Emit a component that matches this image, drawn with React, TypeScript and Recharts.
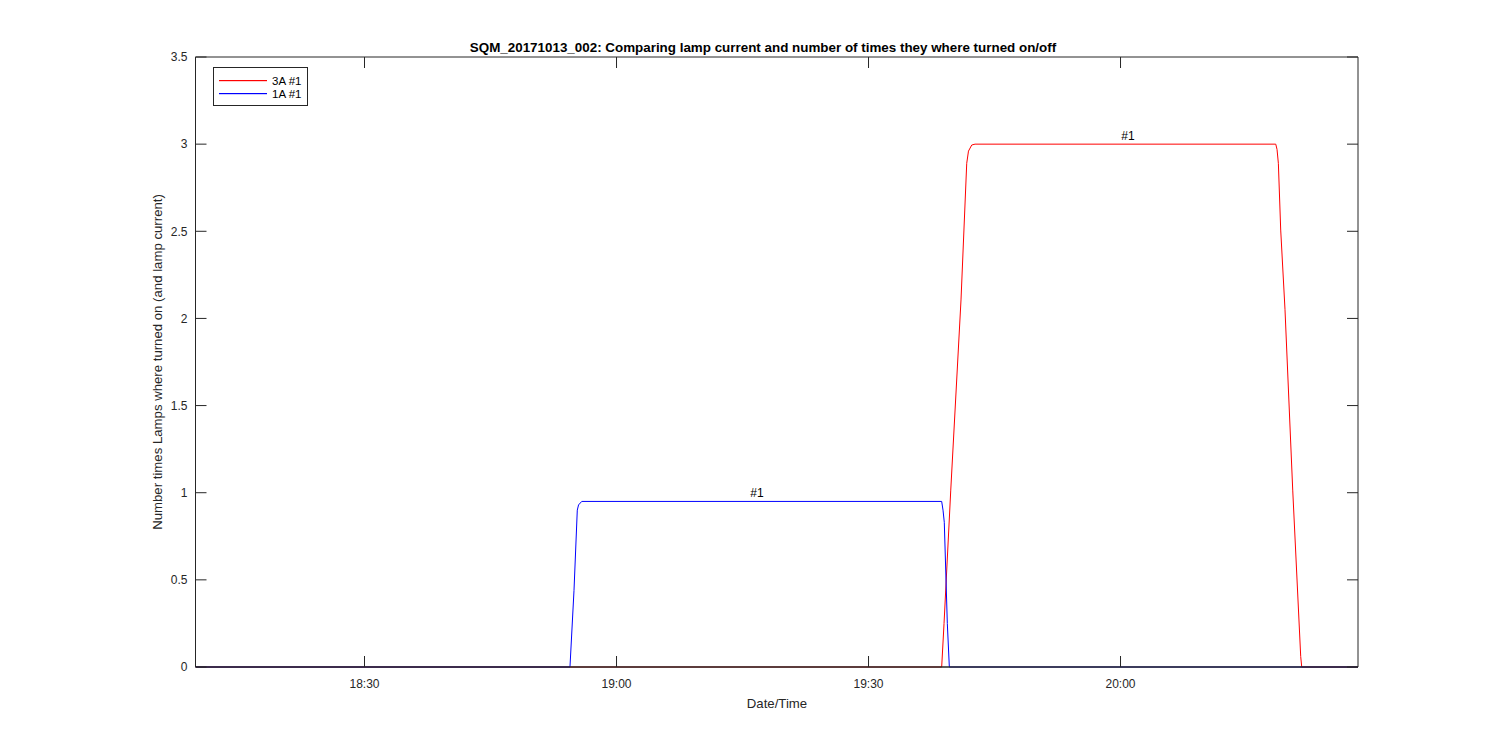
import { LineChart, Line, XAxis, YAxis, ReferenceDot, ReferenceLine, Legend } from 'recharts'

// ─── Data ─────────────────────────────────────────────────────────────────────

const TITLE = 'SQM_20171013_002: Comparing lamp current and number of times they where turned on/off'
const X_LABEL = 'Date/Time'
const Y_LABEL = 'Number times Lamps where turned on (and lamp current)'

// time axis in minutes after midnight
const X_DOMAIN = [1089.88, 1228.27]
const X_TICKS = [1110, 1140, 1170, 1200]
const Y_DOMAIN = [0, 3.5]
const Y_TICKS = [0, 0.5, 1, 1.5, 2, 2.5, 3, 3.5]

const SERIES_NAMES = ['3A #1', '1A #1']
const SERIES_COLORS = ['#ff0000', '#0000ff']

const lamp3aTime = [
  1089.88, 1178.71, 1178.99, 1179.79, 1181.01, 1181.69, 1181.9, 1182.29, 1182.68,
  1218.48, 1218.63, 1218.79, 1219.07, 1219.58, 1220.5, 1221.45, 1221.57, 1228.27,
]
const lamp3aValue = [
  0, 0, 0.25, 1.015, 2.106, 2.89, 2.96, 2.995, 3,
  3, 2.97, 2.89, 2.507, 2.05, 1.015, 0.06, 0, 0,
]

const lamp1aTime = [
  1089.88, 1134.46, 1134.94, 1135.33, 1135.48, 1135.86,
  1178.71, 1178.87, 1179.02, 1179.38, 1179.62, 1228.27,
]
const lamp1aValue = [0, 0, 0.44, 0.9, 0.93, 0.95, 0.95, 0.9, 0.83, 0.25, 0, 0]

const annoTime = [1156.73, 1200.89]
const annoValue = [0.95, 3]
const annoText = ['#1', '#1']

// ─── Layout / style ───────────────────────────────────────────────────────────

const FONT = '"Liberation Sans", Arial, Helvetica, sans-serif'
const AXIS = '#262626'
const PLOT_W = 1162.5
const PLOT_H = 610
const TICK_LEN = 11
// inward tick length expressed in axis units
const TICK_DX = ((X_DOMAIN[1] - X_DOMAIN[0]) * TICK_LEN) / PLOT_W
const TICK_DY = ((Y_DOMAIN[1] - Y_DOMAIN[0]) * TICK_LEN) / PLOT_H

function hhmm(m: number) {
  const h = Math.floor(m / 60)
  const mm = Math.round(m - h * 60)
  return `${h}:${String(mm).padStart(2, '0')}`
}

const lamp3a = lamp3aTime.map((t, i) => ({ t, v: lamp3aValue[i] }))
const lamp1a = lamp1aTime.map((t, i) => ({ t, v: lamp1aValue[i] }))

function LegendBox() {
  return (
    <div style={{ border: `1px solid ${AXIS}`, background: '#fff', padding: '6px 6px 5px 5px', fontFamily: FONT, fontSize: 11.5, color: '#000' }}>
      {SERIES_NAMES.map((name, i) => (
        <div key={name} style={{ display: 'flex', alignItems: 'center', height: 13 }}>
          <svg width={48} height={4} style={{ marginRight: 5, display: 'block' }}>
            <rect x={0} y={1} width={48} height={1.2} fill={SERIES_COLORS[i]} />
          </svg>
          <span>{name}</span>
        </div>
      ))}
    </div>
  )
}

// ─── Component ────────────────────────────────────────────────────────────────

export default function App() {
  const tickStyle = { stroke: AXIS, strokeWidth: 1, ifOverflow: 'visible' as const }
  return (
    <div style={{ position: 'absolute', left: 0, top: 0, width: 1500, height: 750, background: '#fff', fontFamily: FONT }}>
      <div style={{ position: 'absolute', left: 263, width: 1000, top: 40, lineHeight: '16px', textAlign: 'center', fontWeight: 'bold', fontSize: 13.4, color: '#000' }}>
        {TITLE}
      </div>
      <LineChart width={1500} height={750} margin={{ top: 56, right: 141, bottom: 0, left: 0 }} style={{ fontFamily: FONT }}>
        <Legend
          layout="vertical"
          align="center"
          verticalAlign="middle"
          content={<LegendBox />}
          wrapperStyle={{ left: 213, top: 67, width: 'auto' }}
        />
        <Line data={lamp3a} dataKey="v" name={SERIES_NAMES[0]} stroke={SERIES_COLORS[0]} strokeWidth={1} dot={false} type="linear" isAnimationActive={false} />
        <Line data={lamp1a} dataKey="v" name={SERIES_NAMES[1]} stroke={SERIES_COLORS[1]} strokeWidth={1} dot={false} type="linear" isAnimationActive={false} />
        {annoTime.map((t, i) => (
          <ReferenceDot
            key={`a${i}`}
            x={t}
            y={annoValue[i]}
            r={0}
            stroke="none"
            fill="none"
            label={{ value: annoText[i], position: 'top', offset: 4, fontSize: 12, fill: '#000' }}
          />
        ))}
        {/* inward ticks on all four sides */}
        {X_TICKS.map((t) => (
          <ReferenceLine key={`xb${t}`} segment={[{ x: t, y: Y_DOMAIN[0] }, { x: t, y: Y_DOMAIN[0] + TICK_DY }]} {...tickStyle} />
        ))}
        {X_TICKS.map((t) => (
          <ReferenceLine key={`xt${t}`} segment={[{ x: t, y: Y_DOMAIN[1] }, { x: t, y: Y_DOMAIN[1] - TICK_DY }]} {...tickStyle} />
        ))}
        {Y_TICKS.map((v) => (
          <ReferenceLine key={`yl${v}`} segment={[{ x: X_DOMAIN[0], y: v }, { x: X_DOMAIN[0] + TICK_DX, y: v }]} {...tickStyle} />
        ))}
        {Y_TICKS.map((v) => (
          <ReferenceLine key={`yr${v}`} segment={[{ x: X_DOMAIN[1], y: v }, { x: X_DOMAIN[1] - TICK_DX, y: v }]} {...tickStyle} />
        ))}
        <XAxis
          dataKey="t"
          type="number"
          domain={X_DOMAIN}
          allowDataOverflow
          ticks={X_TICKS}
          tickFormatter={hhmm}
          height={83}
          stroke={AXIS}
          strokeWidth={1.3}
          tickLine={false}
          tickSize={0}
          tickMargin={12}
          tick={{ fontSize: 12, fill: AXIS, fontFamily: FONT }}
          label={() => (
            <text x={777} y={708} textAnchor="middle" fontSize={13.2} fill={AXIS} fontFamily={FONT}>{X_LABEL}</text>
          )}
        />
        <XAxis
          xAxisId="top"
          orientation="top"
          dataKey="t"
          type="number"
          domain={X_DOMAIN}
          allowDataOverflow
          height={1}
          stroke={AXIS}
          tickLine={false}
          tick={false}
        />
        <YAxis
          type="number"
          domain={Y_DOMAIN}
          ticks={Y_TICKS}
          width={195.5}
          stroke={AXIS}
          tickLine={false}
          tickSize={0}
          tickMargin={8}
          tick={{ fontSize: 12, fill: AXIS, fontFamily: FONT }}
          label={() => (
            <text x={162} y={362} transform="rotate(-90 162 362)" textAnchor="middle" fontSize={13.2} fill={AXIS} fontFamily={FONT}>{Y_LABEL}</text>
          )}
        />
        <YAxis
          yAxisId="right"
          orientation="right"
          type="number"
          domain={Y_DOMAIN}
          width={1}
          stroke={AXIS}
          tickLine={false}
          tick={false}
        />
      </LineChart>
    </div>
  )
}
